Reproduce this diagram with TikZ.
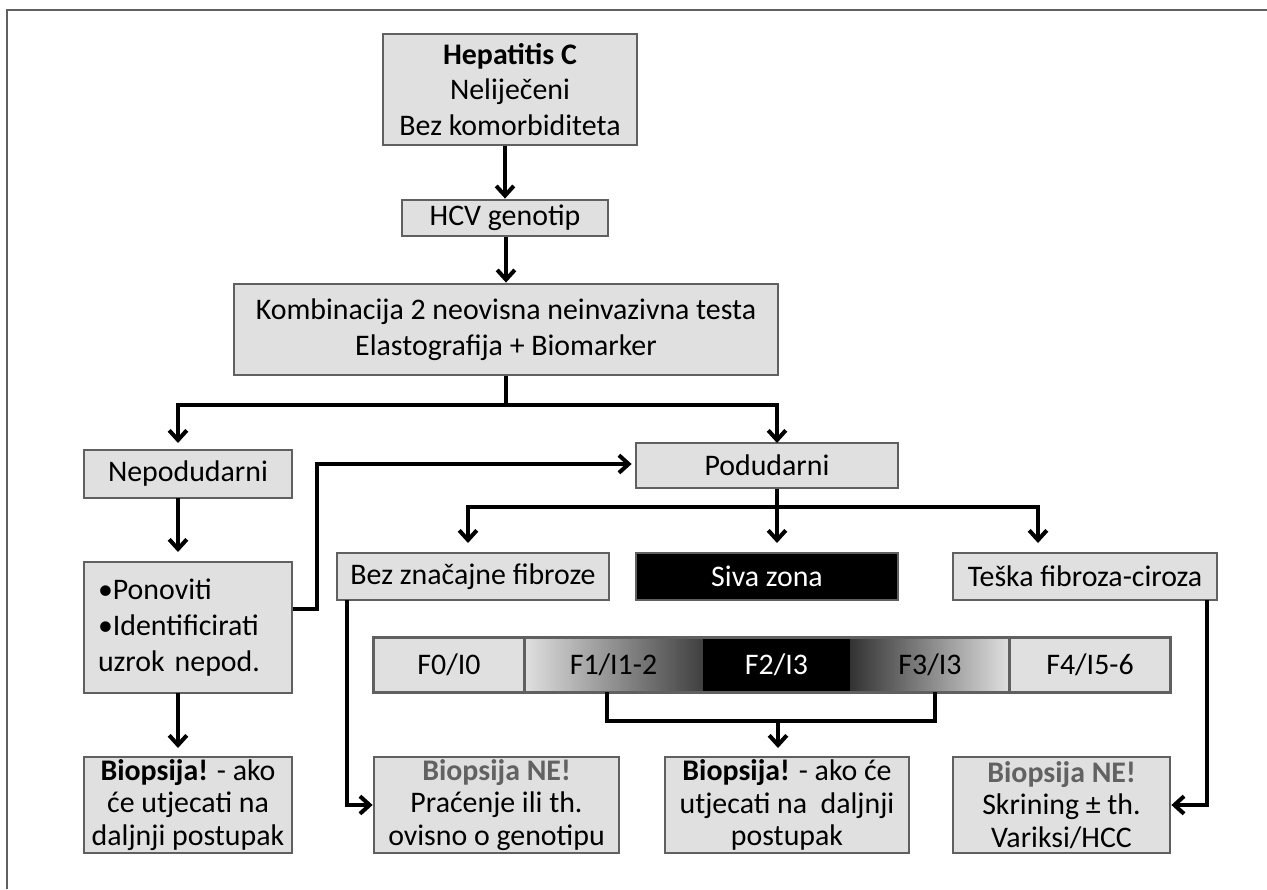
\documentclass[tikz,border=0pt]{standalone}
\usepackage{fontspec}
\setmainfont{Carlito}
\usetikzlibrary{arrows.meta}
\definecolor{boxfill}{HTML}{E0E0E0}
\definecolor{boxline}{HTML}{606060}
\definecolor{notext}{HTML}{626262}
\tikzset{
  box/.style={draw=boxline, fill=boxfill, line width=1.6pt, inner sep=0pt, align=center,
    font=\fontsize{17}{20.4}\selectfont},
  lowbox/.style={box, minimum height=1.92cm, font=\fontsize{17}{18.6}\selectfont},
  darkbox/.style={box, fill=black, text=white},
  seg/.style={inner sep=0pt, minimum height=1.08cm, font=\fontsize{17}{20.4}\selectfont},
  ln/.style={line width=2.3pt},
  arr/.style={ln, -{Straight Barb[length=5.5pt,width=10pt]}},
  frame/.style={draw=boxline, line width=1.2pt}
}
\begin{document}
\begin{tikzpicture}[x=0.02cm, y=-0.02cm]
\useasboundingbox (0,0) rectangle (1267,889);
\draw[frame] (7,889) -- (7,10) -- (1267,10);

\node[box, minimum width=5.08cm, minimum height=2.22cm] (hep) at (510,89.5) {\textbf{Hepatitis C}\\Neliječeni\\Bez komorbiditeta};
\node[box, minimum width=4.12cm, minimum height=0.72cm] (hcv) at (505,218) {HCV genotip};
\node[box, minimum width=10.88cm, minimum height=1.82cm] (komb) at (506,329.5) {Kombinacija 2 neovisna neinvazivna testa\\Elastografija + Biomarker};
\node[box, minimum width=4.16cm, minimum height=0.96cm] (nep) at (188,474) {Nepodudarni};
\node[box, minimum width=5.24cm, minimum height=0.90cm] (pod) at (767,465.5) {Podudarni};
\node[box, align=left, text width=3.6cm, inner xsep=0.28cm, minimum height=2.62cm] (bul) at (188,627.5) {•Ponoviti\\•Identificirati\\uzrok nepod.};
\node[box, minimum width=5.44cm, minimum height=0.94cm] (bez) at (473,576.5) {Bez značajne fibroze};
\node[darkbox, minimum width=5.24cm, minimum height=0.94cm] (siva) at (767,576.5) {Siva zona};
\node[box, minimum width=5.28cm, minimum height=0.94cm] (teska) at (1085,576.5) {Teška fibroza-ciroza};

\node[seg, minimum width=3.0cm, fill=boxfill] (f0) at (449,665) {F0/I0};
\node[seg, minimum width=3.58cm, left color=boxfill, right color=black!75] (f1) at (613.5,665) {F1/I1-2};
\node[seg, minimum width=2.94cm, fill=black, text=white] (f2) at (776.5,665) {F2/I3};
\node[seg, minimum width=3.2cm, left color=black!80, right color=boxfill] (f3) at (930,665) {F3/I3};
\node[seg, minimum width=3.2cm, fill=boxfill] (f4) at (1090,665) {F4/I5-6};
\draw[boxline, line width=1.6pt] (f0.north west) rectangle (f4.south east);
\draw[boxline, line width=1.6pt] (f0.north east) -- (f0.south east);
\draw[boxline, line width=1.6pt] (f4.north west) -- (f4.south west);

\node[lowbox, minimum width=4.16cm] (b1) at (188,805) {\textbf{Biopsija!} - ako\\će utjecati na\\daljnji postupak};
\node[lowbox, minimum width=4.9cm] (b2) at (496.5,805) {\textcolor{notext}{\textbf{Biopsija NE!}}\\Praćenje ili th.\\ovisno o genotipu};
\node[lowbox, minimum width=4.88cm] (b3) at (787,805) {\textbf{Biopsija!} - ako će\\utjecati na\ \ daljnji\\postupak};
\node[lowbox, minimum width=4.34cm] (b4) at (1061.5,805) {\textcolor{notext}{\textbf{Biopsija NE!}}\\Skrining ± th.\\Variksi/HCC};

\coordinate (s1) at (506,405);
\coordinate (s2) at (777,507);
\coordinate (s3) at (778,721);
\draw[arr] (hcv.north |- hep.south) -- (hcv.north);
\draw[arr] (hcv.south -| komb) -- (komb.north);
\draw[ln] (komb.south) -- (s1);
\draw[arr, shorten >=0.14cm] (s1) -| (178,450);
\draw[arr] (s1) -| (777,443);
\draw[arr, shorten >=0.2cm] (178,498) -- (178,562);
\draw[arr, shorten >=0.06cm] (bul.east |- 0,609) -- (317,609) |- (pod.west |- 0,464);
\draw[ln] (pod.south -| s2) -- (s2);
\draw[arr, shorten >=0.2cm] (s2) -| (468,553);
\draw[arr, shorten >=0.2cm] (s2) -- (777,553);
\draw[arr, shorten >=0.2cm] (s2) -| (1038,553);
\draw[arr] (347,600) |- (b2.west);
\draw[arr] (1207,600) |- (b4.east);
\draw[ln] (607,692) |- (s3) -| (935,692);
\draw[arr, shorten >=0.18cm] (s3) -- (778,757);
\draw[arr, shorten >=0.18cm] (178,693) -- (178,757);
\end{tikzpicture}
\end{document}
